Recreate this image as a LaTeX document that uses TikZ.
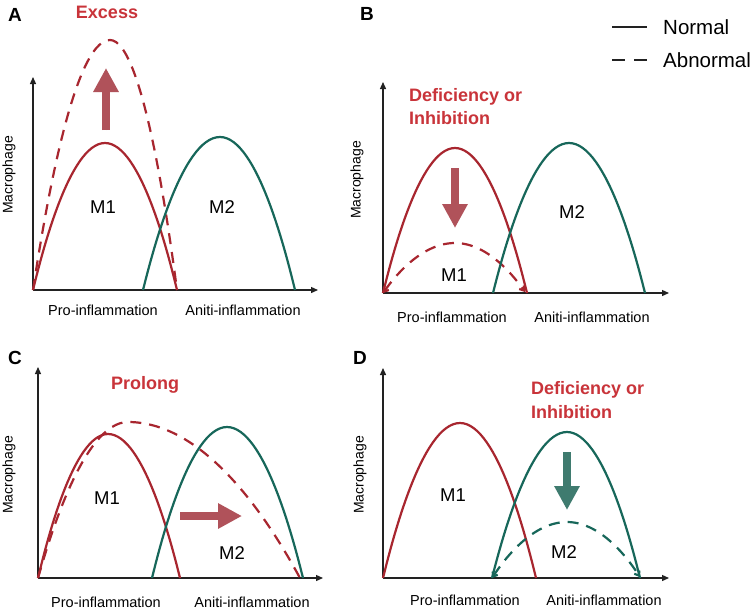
\documentclass[tikz,border=0pt]{standalone}
\usepackage{fontspec}
\setmainfont{Liberation Sans}
\usetikzlibrary{arrows.meta}
\definecolor{cred}{HTML}{A8262F}
\definecolor{cgreen}{HTML}{17675A}
\definecolor{ctitle}{HTML}{C9343A}
\definecolor{carrowr}{HTML}{B0525A}
\definecolor{carrowg}{HTML}{3F7B6F}
\definecolor{caxis}{HTML}{222222}
\begin{document}
\begin{tikzpicture}[x=1pt,y=-1pt,
  axis/.style={line width=1.3pt, draw=caxis, -{Triangle[length=7pt,width=6pt]}},
  mone/.style={draw=cred, line width=2.2pt},
  mtwo/.style={draw=cgreen, line width=2.2pt},
  abn/.style={dash pattern=on 11pt off 8pt},
  endtips/.style={{Straight Barb[length=4pt,width=6pt]}-{Straight Barb[length=4pt,width=6pt]}},
  bigarrow/.style={line width=8pt, -{Triangle[length=24pt,width=24pt]}},
  lbl/.style={inner sep=0pt, font=\fontsize{19}{22}\selectfont\bfseries},
  ttl/.style={inner sep=0pt, text=ctitle, font=\fontsize{18}{21}\selectfont\bfseries},
  mtxt/.style={inner sep=0pt, font=\fontsize{18.5}{21}\selectfont},
  ytxt/.style={inner sep=0pt, rotate=90, font=\fontsize{14}{16}\selectfont},
  xtxt/.style={inner sep=0pt, font=\fontsize{14.5}{17}\selectfont},
  leg/.style={inner sep=0pt, anchor=west, font=\fontsize{20.5}{24}\selectfont}
]
\useasboundingbox[fill=white] (0,0) rectangle (754,611);

% ---------- Panel A ----------
\coordinate (Ao) at (33,290);
\coordinate (Ay) at (33,77);
\coordinate (Ax) at (318,290);
\draw[axis] (Ao) -- (Ay);
\draw[axis] (Ao) -- (Ax);
\draw[mone] (33,290) parabola bend (105,143) (177,290);
\draw[mone,abn] (33,290) parabola bend (110,40) (177,290);
\draw[mtwo] (143,290) parabola bend (220,137) (295,290);
\coordinate (Aa1) at (106,130);
\coordinate (Aa2) at (106,68);
\draw[bigarrow, draw=carrowr, fill=carrowr] (Aa1) -- (Aa2);
\node[lbl] (Alab) at (15,15) {A};
\node[ttl] (Atitle) at (107,12) {Excess};
\node[mtxt] (Am1) at (103,207) {M1};
\node[mtxt] (Am2) at (222,207) {M2};
\node[ytxt] (Ay1) at (9,175) {Macrophage};
\node[xtxt] (Ax1) at (103,310) {Pro-inflammation};
\node[xtxt] (Ax2) at (243,310) {Aniti-inflammation};

% ---------- Panel B ----------
\coordinate (Bo) at (383,293);
\coordinate (By) at (383,82);
\coordinate (Bx) at (669,293);
\draw[axis] (Bo) -- (By);
\draw[axis] (Bo) -- (Bx);
\draw[mone] (383,293) parabola bend (455,148) (527,293);
\draw[mone,abn,endtips] (383,293) parabola bend (455,243) (525,292);
\draw[mtwo] (493,293) parabola bend (569,143) (645,293);
\coordinate (Ba1) at (455,168);
\coordinate (Ba2) at (455,228);
\draw[bigarrow, draw=carrowr, fill=carrowr] (Ba1) -- (Ba2);
\node[lbl] (Blab) at (367,14) {B};
\node[ttl, anchor=west] (Btitle1) at (409,97) {Deficiency or};
\node[ttl, anchor=west] (Btitle2) at (409,118) {Inhibition};
\node[mtxt] (Bm1) at (454,275) {M1};
\node[mtxt] (Bm2) at (572,212) {M2};
\node[ytxt] (By1) at (357,180) {Macrophage};
\node[xtxt] (Bx1) at (452,317) {Pro-inflammation};
\node[xtxt] (Bx2) at (592,317) {Aniti-inflammation};

% legend
\coordinate (L1a) at (612,27);
\coordinate (L1b) at (647,27);
\coordinate (L2a) at (612,60);
\coordinate (L2b) at (647,60);
\draw[line width=1.8pt, draw=caxis] (L1a) -- (L1b);
\draw[line width=1.8pt, draw=caxis, dash pattern=on 13pt off 9pt] (L2a) -- (L2b);
\node[leg] (Lnormal) at (663,27) {Normal};
\node[leg] (Labn) at (663,60) {Abnormal};

% ---------- Panel C ----------
\coordinate (Co) at (38,578);
\coordinate (Cy) at (38,367);
\coordinate (Cx) at (323,578);
\draw[axis] (Co) -- (Cy);
\draw[axis] (Co) -- (Cx);
\draw[mone] (38,578) parabola bend (108,434) (180,578);
\draw[mone,abn] (38,578) parabola bend (128,422) (300,578);
\draw[mtwo] (152,578) parabola bend (227,427) (303,578);
\coordinate (Ca1) at (180,516);
\coordinate (Ca2) at (242,516);
\draw[bigarrow, draw=carrowr, fill=carrowr] (Ca1) -- (Ca2);
\node[lbl] (Clab) at (15,358) {C};
\node[ttl] (Ctitle) at (145,385) {Prolong};
\node[mtxt] (Cm1) at (107,498) {M1};
\node[mtxt] (Cm2) at (232,553) {M2};
\node[ytxt] (Cy1) at (9,475) {Macrophage};
\node[xtxt] (Cx1) at (106,602) {Pro-inflammation};
\node[xtxt] (Cx2) at (252,602) {Aniti-inflammation};

% ---------- Panel D ----------
\coordinate (Do) at (383,578);
\coordinate (Dy) at (383,368);
\coordinate (Dx) at (669,578);
\draw[axis] (Do) -- (Dy);
\draw[axis] (Do) -- (Dx);
\draw[mone] (383,578) parabola bend (460,423) (536,578);
\draw[mtwo] (492,578) parabola bend (567,432) (640,578);
\draw[mtwo,abn,endtips] (492,578) parabola bend (567,522) (640,577);
\coordinate (Da1) at (567,452);
\coordinate (Da2) at (567,510);
\draw[bigarrow, draw=carrowg, fill=carrowg] (Da1) -- (Da2);
\node[lbl] (Dlab) at (360,358) {D};
\node[ttl, anchor=west] (Dtitle1) at (531,390) {Deficiency or};
\node[ttl, anchor=west] (Dtitle2) at (531,412) {Inhibition};
\node[mtxt] (Dm1) at (453,495) {M1};
\node[mtxt] (Dm2) at (564,552) {M2};
\node[ytxt] (Dy1) at (360,475) {Macrophage};
\node[xtxt] (Dx1) at (465,600) {Pro-inflammation};
\node[xtxt] (Dx2) at (604,600) {Aniti-inflammation};
\end{tikzpicture}
\end{document}
